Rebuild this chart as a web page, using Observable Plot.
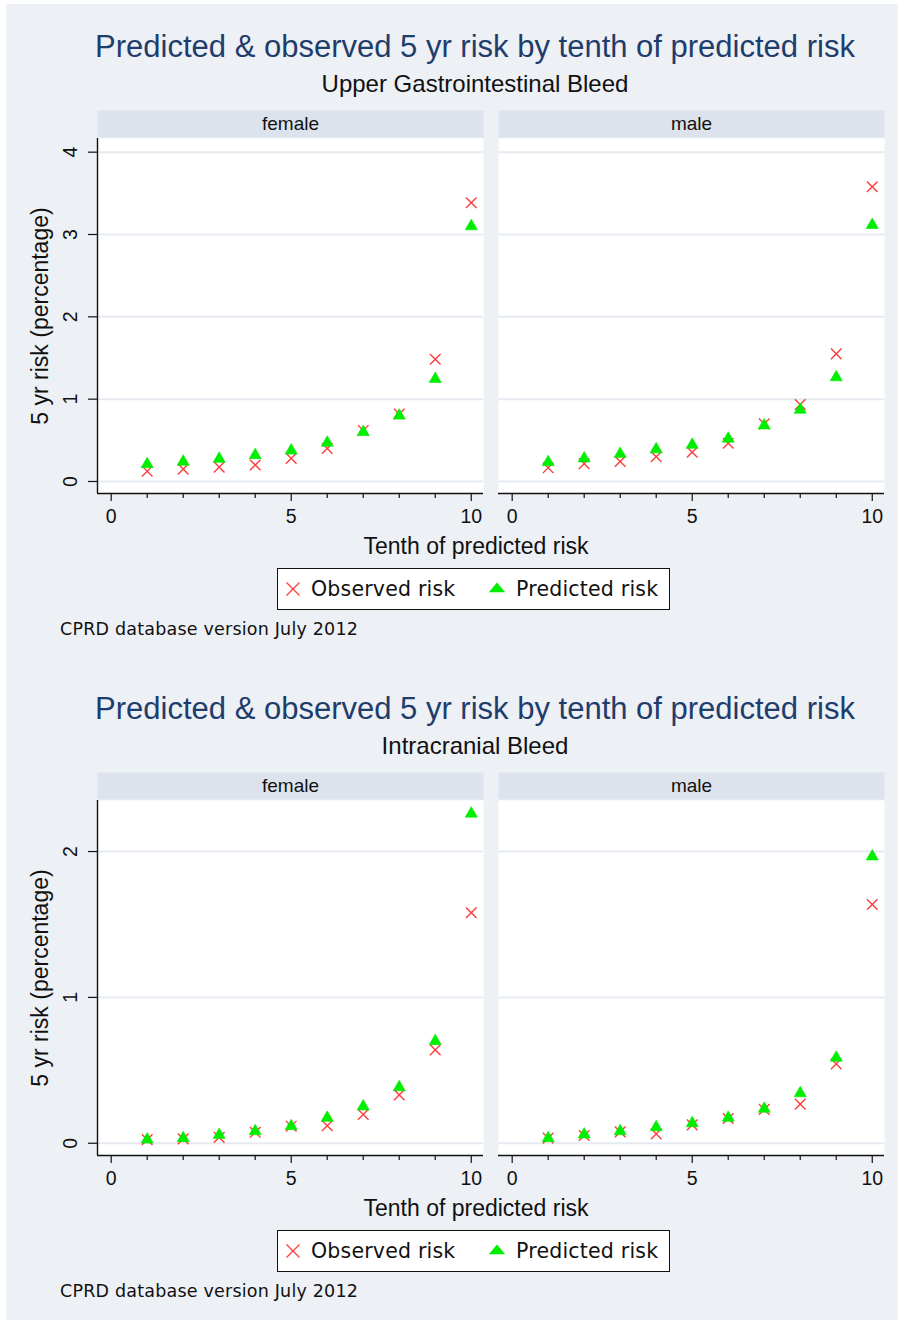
<!DOCTYPE html>
<html>
<head>
<meta charset="utf-8">
<script src="https://cdn.jsdelivr.net/npm/d3@7"></script>
<script src="https://cdn.jsdelivr.net/npm/@observablehq/plot@0.6"></script>
<style>
  html, body { margin: 0; padding: 0; background: #ffffff; }
  body { width: 905px; height: 1325px; overflow: hidden; position: relative; font-family: "Liberation Sans", Arial, sans-serif; }
  #sheet { position: absolute; left: 6px; top: 4px; width: 892px; height: 1316px; background: #edf0f5; }
  .block { position: absolute; left: 0; width: 905px; height: 662px; }
  .title { position: absolute; left: 45px; width: 860px; text-align: center; white-space: nowrap; }
  .main { top: 31px; font-size: 31px; line-height: 31px; color: #1f3d6c; }
  .sub { top: 72px; font-size: 24px; line-height: 24px; color: #111; }
  .plotwrap { position: absolute; left: 0; top: 100px; }
  .xlabel { top: 535px; font-size: 23px; line-height: 23px; color: #111; left: 46px; }
  .legend { position: absolute; left: 277px; top: 568px; width: 393px; height: 42px; box-sizing: border-box;
            background: #fff; border: 1.5px solid #111; }
  .legend svg { position: absolute; }
  .legend span { position: absolute; top: 10px; font-family: "DejaVu Sans", sans-serif; font-size: 20.5px; line-height: 21px; color: #111; white-space: nowrap; letter-spacing: 0.2px; }
  .caption { position: absolute; left: 60px; top: 620px; font-family: "DejaVu Sans", sans-serif; font-size: 17.5px; line-height: 18px; color: #111; white-space: nowrap; letter-spacing: 0.2px; }
</style>
</head>
<body>
<div id="sheet"></div>
<script>
// Deciles of predicted risk (x) and the two panels of each chart
const tenths = [1, 2, 3, 4, 5, 6, 7, 8, 9, 10];
const sexes = ["female", "male"];
const xTicksMajor = [0, 5, 10];
const xTicksMinor = [1, 2, 3, 4, 6, 7, 8, 9];

const chartTitle = "Predicted & observed 5 yr risk by tenth of predicted risk";
const xLabel = "Tenth of predicted risk";
const yLabel = "5 yr risk (percentage)";
const legendLabels = ["Observed risk", "Predicted risk"];
const caption = "CPRD database version July 2012";

// Upper gastrointestinal bleed, 5 yr risk (%)
const giSubtitle = "Upper Gastrointestinal Bleed";
const giFemaleObserved  = [0.125, 0.15, 0.175, 0.20, 0.28, 0.40, 0.62, 0.82, 1.485, 3.385];
const giFemalePredicted = [0.21, 0.24, 0.275, 0.32, 0.375, 0.47, 0.60, 0.80, 1.245, 3.10];
const giMaleObserved    = [0.166, 0.215, 0.243, 0.30, 0.355, 0.465, 0.70, 0.935, 1.55, 3.58];
const giMalePredicted   = [0.235, 0.28, 0.335, 0.39, 0.445, 0.52, 0.68, 0.87, 1.265, 3.115];
const giYTicks = [0, 1, 2, 3, 4];
const giYDomain = [-0.146, 4.166];

// Intracranial bleed, 5 yr risk (%)
const icSubtitle = "Intracranial Bleed";
const icFemaleObserved  = [0.025, 0.03, 0.04, 0.075, 0.117, 0.12, 0.197, 0.332, 0.64, 1.58];
const icFemalePredicted = [0.025, 0.035, 0.057, 0.082, 0.117, 0.174, 0.252, 0.384, 0.70, 2.26];
const icMaleObserved    = [0.035, 0.053, 0.078, 0.064, 0.126, 0.17, 0.232, 0.268, 0.544, 1.637];
const icMalePredicted   = [0.035, 0.06, 0.082, 0.11, 0.137, 0.174, 0.236, 0.343, 0.586, 1.966];
const icYTicks = [0, 1, 2];
const icYDomain = [-0.084, 2.35];

const observedColor = "#ff3c3c";
const predictedColor = "#00ee00";
const xDomain = [-0.38, 10.34];

function panels(series, yDomain, yTicks) {
  const rows = [];
  for (const s of series) {
    s.values.forEach((v, i) => rows.push({sex: s.sex, kind: s.kind, tenth: tenths[i], risk: v}));
  }
  const observed = rows.filter(d => d.kind === legendLabels[0]);
  const predicted = rows.filter(d => d.kind === legendLabels[1]);
  const plotH = 355;
  const leftPanel = [{sex: sexes[0]}];
  const leftTicks = yTicks.map(t => ({sex: sexes[0], t}));

  return Plot.plot({
    width: 905,
    height: 435,
    marginTop: 38,
    marginBottom: 42,
    marginLeft: 97,
    marginRight: 20,
    style: {background: "transparent", fontFamily: "'Liberation Sans', Arial, sans-serif", color: "#111", overflow: "visible"},
    fx: {domain: sexes, paddingInner: 0.0374, paddingOuter: 0, axis: null, label: null},
    x: {domain: xDomain, axis: null},
    y: {domain: yDomain, axis: null},
    marks: [
      // white plot region and the facet strip above it
      Plot.frame({fill: "#ffffff"}),
      Plot.frame({fill: "#dce3ec", insetTop: -28, insetBottom: plotH + 1}),
      Plot.text(sexes, {fx: d => d, text: d => d, frameAnchor: "top", lineAnchor: "middle", dy: -15, fontSize: 19, fill: "#111"}),
      Plot.gridY(yTicks, {stroke: "#e6ebf2", strokeOpacity: 1, strokeWidth: 2}),
      // axis lines
      Plot.ruleY([yDomain[0]], {stroke: "#111", strokeWidth: 1.4}),
      Plot.ruleX(leftPanel, {fx: "sex", x: () => xDomain[0], stroke: "#111", strokeWidth: 1.4}),
      // ticks and labels
      Plot.axisY({ticks: yTicks, tickSize: 9, tickFormat: () => "", label: null, stroke: "#111", strokeWidth: 1.2}),
      Plot.text(leftTicks, {fx: "sex", y: "t", text: d => String(d.t), frameAnchor: "left", textAnchor: "middle", lineAnchor: "middle", dx: -27, rotate: -90, fontSize: 19.5, fill: "#111"}),
      Plot.text(leftPanel, {fx: "sex", text: () => yLabel, frameAnchor: "left", textAnchor: "middle", lineAnchor: "middle", dx: -57, rotate: -90, fontSize: 23, fill: "#111"}),
      Plot.axisX({ticks: xTicksMajor, tickSize: 8, tickPadding: 8, fontSize: 19.5, label: null, stroke: "#111", strokeWidth: 1.2, fill: "#111"}),
      Plot.axisX({ticks: xTicksMinor, tickSize: 5, tickFormat: () => "", label: null, stroke: "#111", strokeWidth: 1.2}),
      // observed (x) under predicted (triangle)
      Plot.dot(observed, {fx: "sex", x: "tenth", y: "risk", symbol: "times", r: 4.9, stroke: observedColor, strokeWidth: 1.4}),
      Plot.dot(predicted, {fx: "sex", x: "tenth", y: "risk", symbol: "triangle", r: 4.5, fill: predictedColor, stroke: predictedColor, strokeWidth: 0.6})
    ]
  });
}

function marker(symbol, size, attrs, sx) {
  const svg = d3.create("svg").attr("width", 22).attr("height", 22).attr("viewBox", "-11 -11 22 22");
  const p = svg.append("path").attr("d", d3.symbol(symbol, size)());
  if (sx) p.attr("transform", `scale(${sx},1)`);
  for (const [k, v] of Object.entries(attrs)) p.attr(k, v);
  return svg.node();
}

function block(top, subtitle, series, yDomain, yTicks) {
  const b = document.createElement("div");
  b.className = "block";
  b.style.top = top + "px";

  const t = document.createElement("div");
  t.className = "title main"; t.textContent = chartTitle; b.appendChild(t);
  const s = document.createElement("div");
  s.className = "title sub"; s.textContent = subtitle; b.appendChild(s);

  const w = document.createElement("div");
  w.className = "plotwrap";
  w.appendChild(panels(series, yDomain, yTicks));
  b.appendChild(w);

  const xl = document.createElement("div");
  xl.className = "title xlabel"; xl.textContent = xLabel; b.appendChild(xl);

  const lg = document.createElement("div");
  lg.className = "legend";
  const m1 = marker(d3.symbolTimes, 112, {fill: "none", stroke: observedColor, "stroke-width": 1.3});
  m1.style.left = "4px"; m1.style.top = "8.5px";
  const l1 = document.createElement("span"); l1.textContent = legendLabels[0]; l1.style.left = "33px";
  const m2 = marker(d3.symbolTriangle, 55, {fill: predictedColor}, 1.45);
  m2.style.left = "208px"; m2.style.top = "8.5px";
  const l2 = document.createElement("span"); l2.textContent = legendLabels[1]; l2.style.left = "238px";
  lg.append(m1, l1, m2, l2);
  b.appendChild(lg);

  const c = document.createElement("div");
  c.className = "caption"; c.textContent = caption; b.appendChild(c);

  document.body.appendChild(b);
}

block(0, giSubtitle, [
  {sex: "female", kind: legendLabels[0], values: giFemaleObserved},
  {sex: "female", kind: legendLabels[1], values: giFemalePredicted},
  {sex: "male", kind: legendLabels[0], values: giMaleObserved},
  {sex: "male", kind: legendLabels[1], values: giMalePredicted}
], giYDomain, giYTicks);

block(662, icSubtitle, [
  {sex: "female", kind: legendLabels[0], values: icFemaleObserved},
  {sex: "female", kind: legendLabels[1], values: icFemalePredicted},
  {sex: "male", kind: legendLabels[0], values: icMaleObserved},
  {sex: "male", kind: legendLabels[1], values: icMalePredicted}
], icYDomain, icYTicks);
</script>
</body>
</html>
